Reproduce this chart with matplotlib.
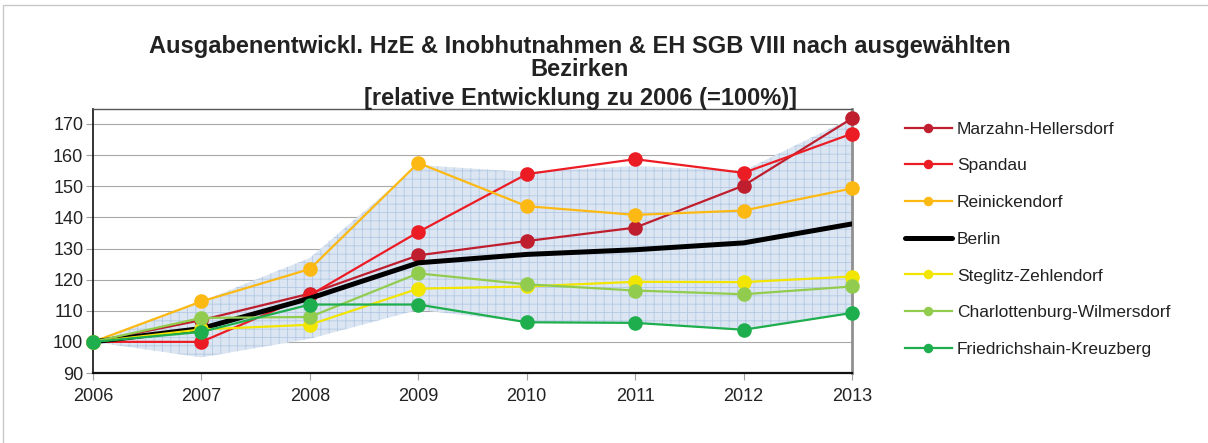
import matplotlib
matplotlib.use("Agg")
import matplotlib.pyplot as plt
from matplotlib.lines import Line2D

plt.rcParams['font.family'] = ['Liberation Sans', 'DejaVu Sans']
plt.rcParams['hatch.linewidth'] = 0.6
plt.rcParams['hatch.color'] = '#b4c8e4'

years = [2006, 2007, 2008, 2009, 2010, 2011, 2012, 2013]
series_names = ["Marzahn-Hellersdorf", "Spandau", "Reinickendorf", "Berlin",
                "Steglitz-Zehlendorf", "Charlottenburg-Wilmersdorf", "Friedrichshain-Kreuzberg"]
marzahn = [100, 107.0, 115.5, 127.8, 132.4, 136.7, 150.2, 171.8]
spandau = [100, 100.0, 115.0, 135.3, 153.9, 158.7, 154.3, 166.9]
reinickendorf = [100, 113.0, 123.4, 157.5, 143.6, 140.8, 142.2, 149.3]
berlin = [100, 104.3, 114.0, 125.4, 128.1, 129.6, 131.8, 137.9]
steglitz = [100, 104.0, 105.5, 117.1, 117.8, 119.3, 119.2, 121.0]
charlottenburg = [100, 107.7, 108.0, 122.0, 118.5, 116.5, 115.3, 117.8]
friedrichshain = [100, 103.2, 112.0, 112.0, 106.3, 106.1, 103.9, 109.3]
band_upper = [100, 113.0, 127.0, 156.8, 154.6, 156.5, 155.0, 172.0]
band_lower = [100, 95.0, 101.0, 110.3, 106.3, 106.1, 103.6, 109.3]
yticks = [90, 100, 110, 120, 130, 140, 150, 160, 170]

colors = ['#be1e2d', '#ec1c24', '#fdb913', '#000000', '#f2e500', '#92cc4e', '#1eae4e']
data = [marzahn, spandau, reinickendorf, berlin, steglitz, charlottenburg, friedrichshain]

fig = plt.figure(figsize=(12.08, 4.43), dpi=100)
# outer chart border (top and left visible)
fig.lines.append(Line2D([3/1208, 3/1208, 1.0], [0.0, 1-5/443, 1-5/443], transform=fig.transFigure,
                        color='#c8c8c8', linewidth=1.0))

ax_top, ax_bot = 109, 373
ax = fig.add_axes([93/1208, 1-ax_bot/443, (852-93)/1208, (ax_bot-ax_top)/443])
ax.fill_between(years, band_lower, band_upper, facecolor='#dce6f2', edgecolor='#b4c8e4',
                hatch='++', linewidth=0, zorder=1)

for name, vals, c in zip(series_names, data, colors):
    if name == "Berlin":
        ax.plot(years, vals, color=c, linewidth=3.6, label=name, zorder=3,
                solid_capstyle='round')
    else:
        ax.plot(years, vals, color=c, linewidth=1.6, marker='o', markersize=10.5,
                markeredgewidth=0, label=name, zorder=3, clip_on=False)

ax.set_xlim(2006, 2013)
ax.set_yticks(yticks)
ax.set_xticks(years)
ax.set_xticklabels([str(y) for y in years])
ax.set_ylim(90, 90 + (ax_bot - ax_top) / 3.1125)
ax.grid(axis='y', color='#a8a8a8', linewidth=0.8, zorder=0)
ax.set_axisbelow(True)
ax.tick_params(axis='y', length=5, color='#a0a0a0', labelsize=13, pad=2, labelcolor='#222222')
ax.tick_params(axis='x', length=5, color='#a0a0a0', labelsize=13, pad=6, labelcolor='#222222')
ax.spines['left'].set_color('#111111')
ax.spines['bottom'].set_color('#111111')
ax.spines['top'].set_color('#555555')
ax.spines['right'].set_color('#909090')
ax.spines['left'].set_linewidth(1.2)
ax.spines['bottom'].set_linewidth(1.6)
ax.spines['right'].set_linewidth(2.0)
ax.spines['top'].set_linewidth(1.0)

leg = fig.legend(loc='upper left', bbox_to_anchor=(889/1208, 1-106/443), frameon=False,
                 fontsize=12.5, handlelength=2.7, labelspacing=1.24, markerscale=0.65,
                 handletextpad=0.3)
for t in leg.get_texts():
    t.set_color('#222222')

fig.text(580/1208, 1-53/443, "Ausgabenentwickl. HzE & Inobhutnahmen & EH SGB VIII nach ausgewählten",
         ha='center', va='baseline', fontsize=17, fontweight='bold', color='#222222')
fig.text(580/1208, 1-76/443, "Bezirken", ha='center', va='baseline', fontsize=17,
         fontweight='bold', color='#222222')
fig.text(581/1208, 1-105/443, "[relative Entwicklung zu 2006 (=100%)]", ha='center', va='baseline',
         fontsize=17, fontweight='bold', color='#222222')

fig.savefig('out.png', dpi=100)
